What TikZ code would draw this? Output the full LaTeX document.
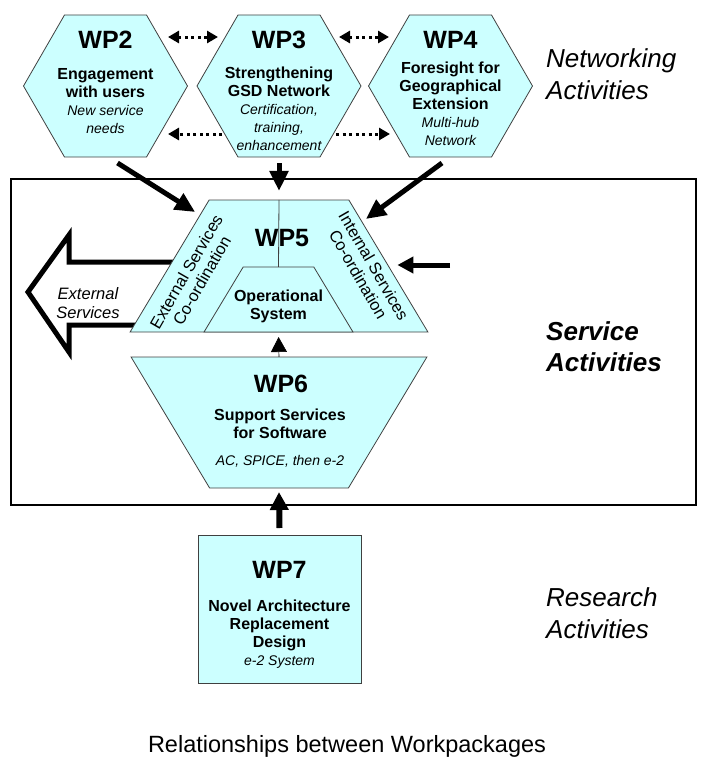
\documentclass[tikz,border=0pt]{standalone}
\usepackage{fontspec}
\setmainfont{Liberation Sans}
\usetikzlibrary{shapes.geometric, arrows.meta, calc}
\definecolor{wpcyan}{HTML}{CCFFFF}
\definecolor{wpedge}{HTML}{404040}
\tikzstyle{hexa} = [regular polygon, regular polygon sides=6, minimum size=164pt, inner sep=0pt, outer sep=0pt, draw=wpedge, fill=wpcyan, line width=0.8pt]
\tikzstyle{trap} = [trapezium, trapezium stretches=true, inner sep=2pt, outer sep=0pt, draw=wpedge, fill=wpcyan, line width=0.8pt]
\tikzstyle{wphead} = [inner sep=0pt, font=\fontsize{25}{25}\selectfont\bfseries]
\tikzstyle{wpbody} = [inner sep=0pt, anchor=north, align=center, font=\fontsize{16}{18}\selectfont\bfseries]
\tikzstyle{coord} = [inner sep=0pt, align=center, font=\fontsize{16.5}{18}\selectfont]
\tikzstyle{side} = [inner sep=0pt, anchor=north west, align=left, font=\fontsize{26}{32}\selectfont\itshape]
\tikzstyle{dotarrow} = [line width=3pt, dash pattern=on 3pt off 3.5pt]
\tikzstyle{arrow} = [line width=5pt, -{Triangle[length=20pt,width=18pt]}]
\newcommand{\wpnote}[1]{{\fontsize{14}{18}\selectfont\mdseries\itshape #1}}

\begin{document}
\begin{tikzpicture}[x=1pt, y=1pt, yscale=-1]
\useasboundingbox (0,0) rectangle (707,772);

% service frame and external services arrow
\draw[line width=1.5pt] (11,179) rectangle (696,505);
\draw[line width=5pt, fill=white] (185,262) -- (69,262) -- (69,235) -- (28,292) -- (69,352) -- (69,325) -- (150,325);
\node at (88,303) (extserv) [align=center, inner sep=0pt, font=\fontsize{16.5}{19}\selectfont\itshape] {External\\Services};

% networking workpackages
\node at (105.5,86) (hex2) [hexa] {};
\node at (279,86) (hex3) [hexa] {};
\node at (450.5,86) (hex4) [hexa] {};

\node at (105.5,40) (wp2) [wphead] {WP2};
\node at (105.5,68.4) (wp2txt) [wpbody] {Engagement\\with users\\\wpnote{New service}\\\wpnote{needs}};
\node at (279,40) (wp3) [wphead] {WP3};
\node at (279,66.4) (wp3txt) [wpbody] {Strengthening\\GSD Network\\\wpnote{Certification,}\\\wpnote{training,}\\\wpnote{enhancement}};
\node at (450.5,40) (wp4) [wphead] {WP4};
\node at (450.5,61.4) (wp4txt) [wpbody] {Foresight for\\Geographical\\Extension\\\wpnote{Multi-hub}\\\wpnote{Network}};

\draw[dotarrow, {Triangle[length=11pt,width=12pt]}-{Triangle[length=11pt,width=12pt]}] ($(hex2.center)+(62.5,-49)$) -- ($(hex3.center)+(-61,-49)$);
\draw[dotarrow, {Triangle[length=11pt,width=12pt]}-{Triangle[length=11pt,width=12pt]}] ($(hex3.center)+(60,-49)$) -- ($(hex4.center)+(-61.5,-49)$);
\draw[dotarrow, -{Triangle[length=11pt,width=12pt]}] ($(hex3.center)+(-57,48)$) -- ($(hex2.center)+(62.5,48)$);
\draw[dotarrow, -{Triangle[length=11pt,width=12pt]}] ($(hex3.center)+(57,48)$) -- ($(hex4.center)+(-60.5,48)$);

% service workpackages
\node at (279,266) (wp5) [trap, trapezium left angle=60.5, trapezium right angle=60.5, minimum width=298pt, minimum height=132pt] {};
\node at (278.5,299.5) (opsys) [trap, trapezium left angle=61, trapezium right angle=61, minimum width=149pt, minimum height=65pt] {};
\draw[wpedge, line width=0.8pt] (wp5.north) -- (opsys.north);
\node at (282,238) (wp5head) [wphead] {WP5};
\node at (278.5,289.4) (opsystxt) [wpbody] {Operational\\System};
\node at (194,276) (extcoord) [coord, rotate=60] {External Services\\Co-ordination};
\node at (366,270) (intcoord) [coord, rotate=-60] {Internal Services\\Co-ordination};

\node at (279,422.5) (wp6) [trap, trapezium left angle=119.5, trapezium right angle=119.5, minimum width=296pt, minimum height=131pt] {};
\node at (281,384) (wp6head) [wphead] {WP6};
\node at (280,408.4) (wp6txt) [wpbody] {Support Services\\for Software\\[9pt]\wpnote{AC, SPICE, then e-2}};

% research workpackage
\node at (279.5,609) (wp7) [draw=wpedge, fill=wpcyan, line width=0.8pt, minimum width=163pt, minimum height=148pt, inner sep=0pt, outer sep=0pt] {};
\node at (279.5,570) (wp7head) [wphead] {WP7};
\node at (279.5,599.4) (wp7txt) [wpbody] {Novel Architecture\\Replacement\\Design\\\wpnote{e-2 System}};

% connectors
\draw[arrow] ($(hex2.center)+(12,77)$) -- ($(wp5.top left corner)+(-14,12)$);
\draw[arrow] ($(hex3.center)+(0,77)$) -- ($(wp5.north)+(0,-9)$);
\draw[arrow] ($(hex4.center)+(-8.5,77)$) -- ($(wp5.top right corner)+(17,19)$);
\coordinate (intin) at (450,265);
\draw[line width=5pt, -{Triangle[length=16pt,width=16pt]}] (intin) -- ($(wp5.east)+(9,-1)$);
\draw[line width=0.6pt, -{Triangle[length=15pt,width=16pt]}, shorten >=5pt] (wp6.north) -- (opsys.south);
\draw[line width=6pt, -{Triangle[length=18pt,width=18pt]}] ($(wp7.north)+(0,-7)$) -- ($(wp6.south)+(0,4)$);

% activity labels
\node at (546,48.4) (netact) [side] {Networking\\Activities};
\node at (546,321.4) (servact) [side, font=\fontsize{26}{31}\selectfont\bfseries\itshape] {Service\\Activities};
\node at (546,587.4) (resact) [side] {Research\\Activities};

\node at (347,752) (caption) [anchor=base, inner sep=0pt, font=\fontsize{23.5}{28}\selectfont] {Relationships between Workpackages};

\end{tikzpicture}
\end{document}
